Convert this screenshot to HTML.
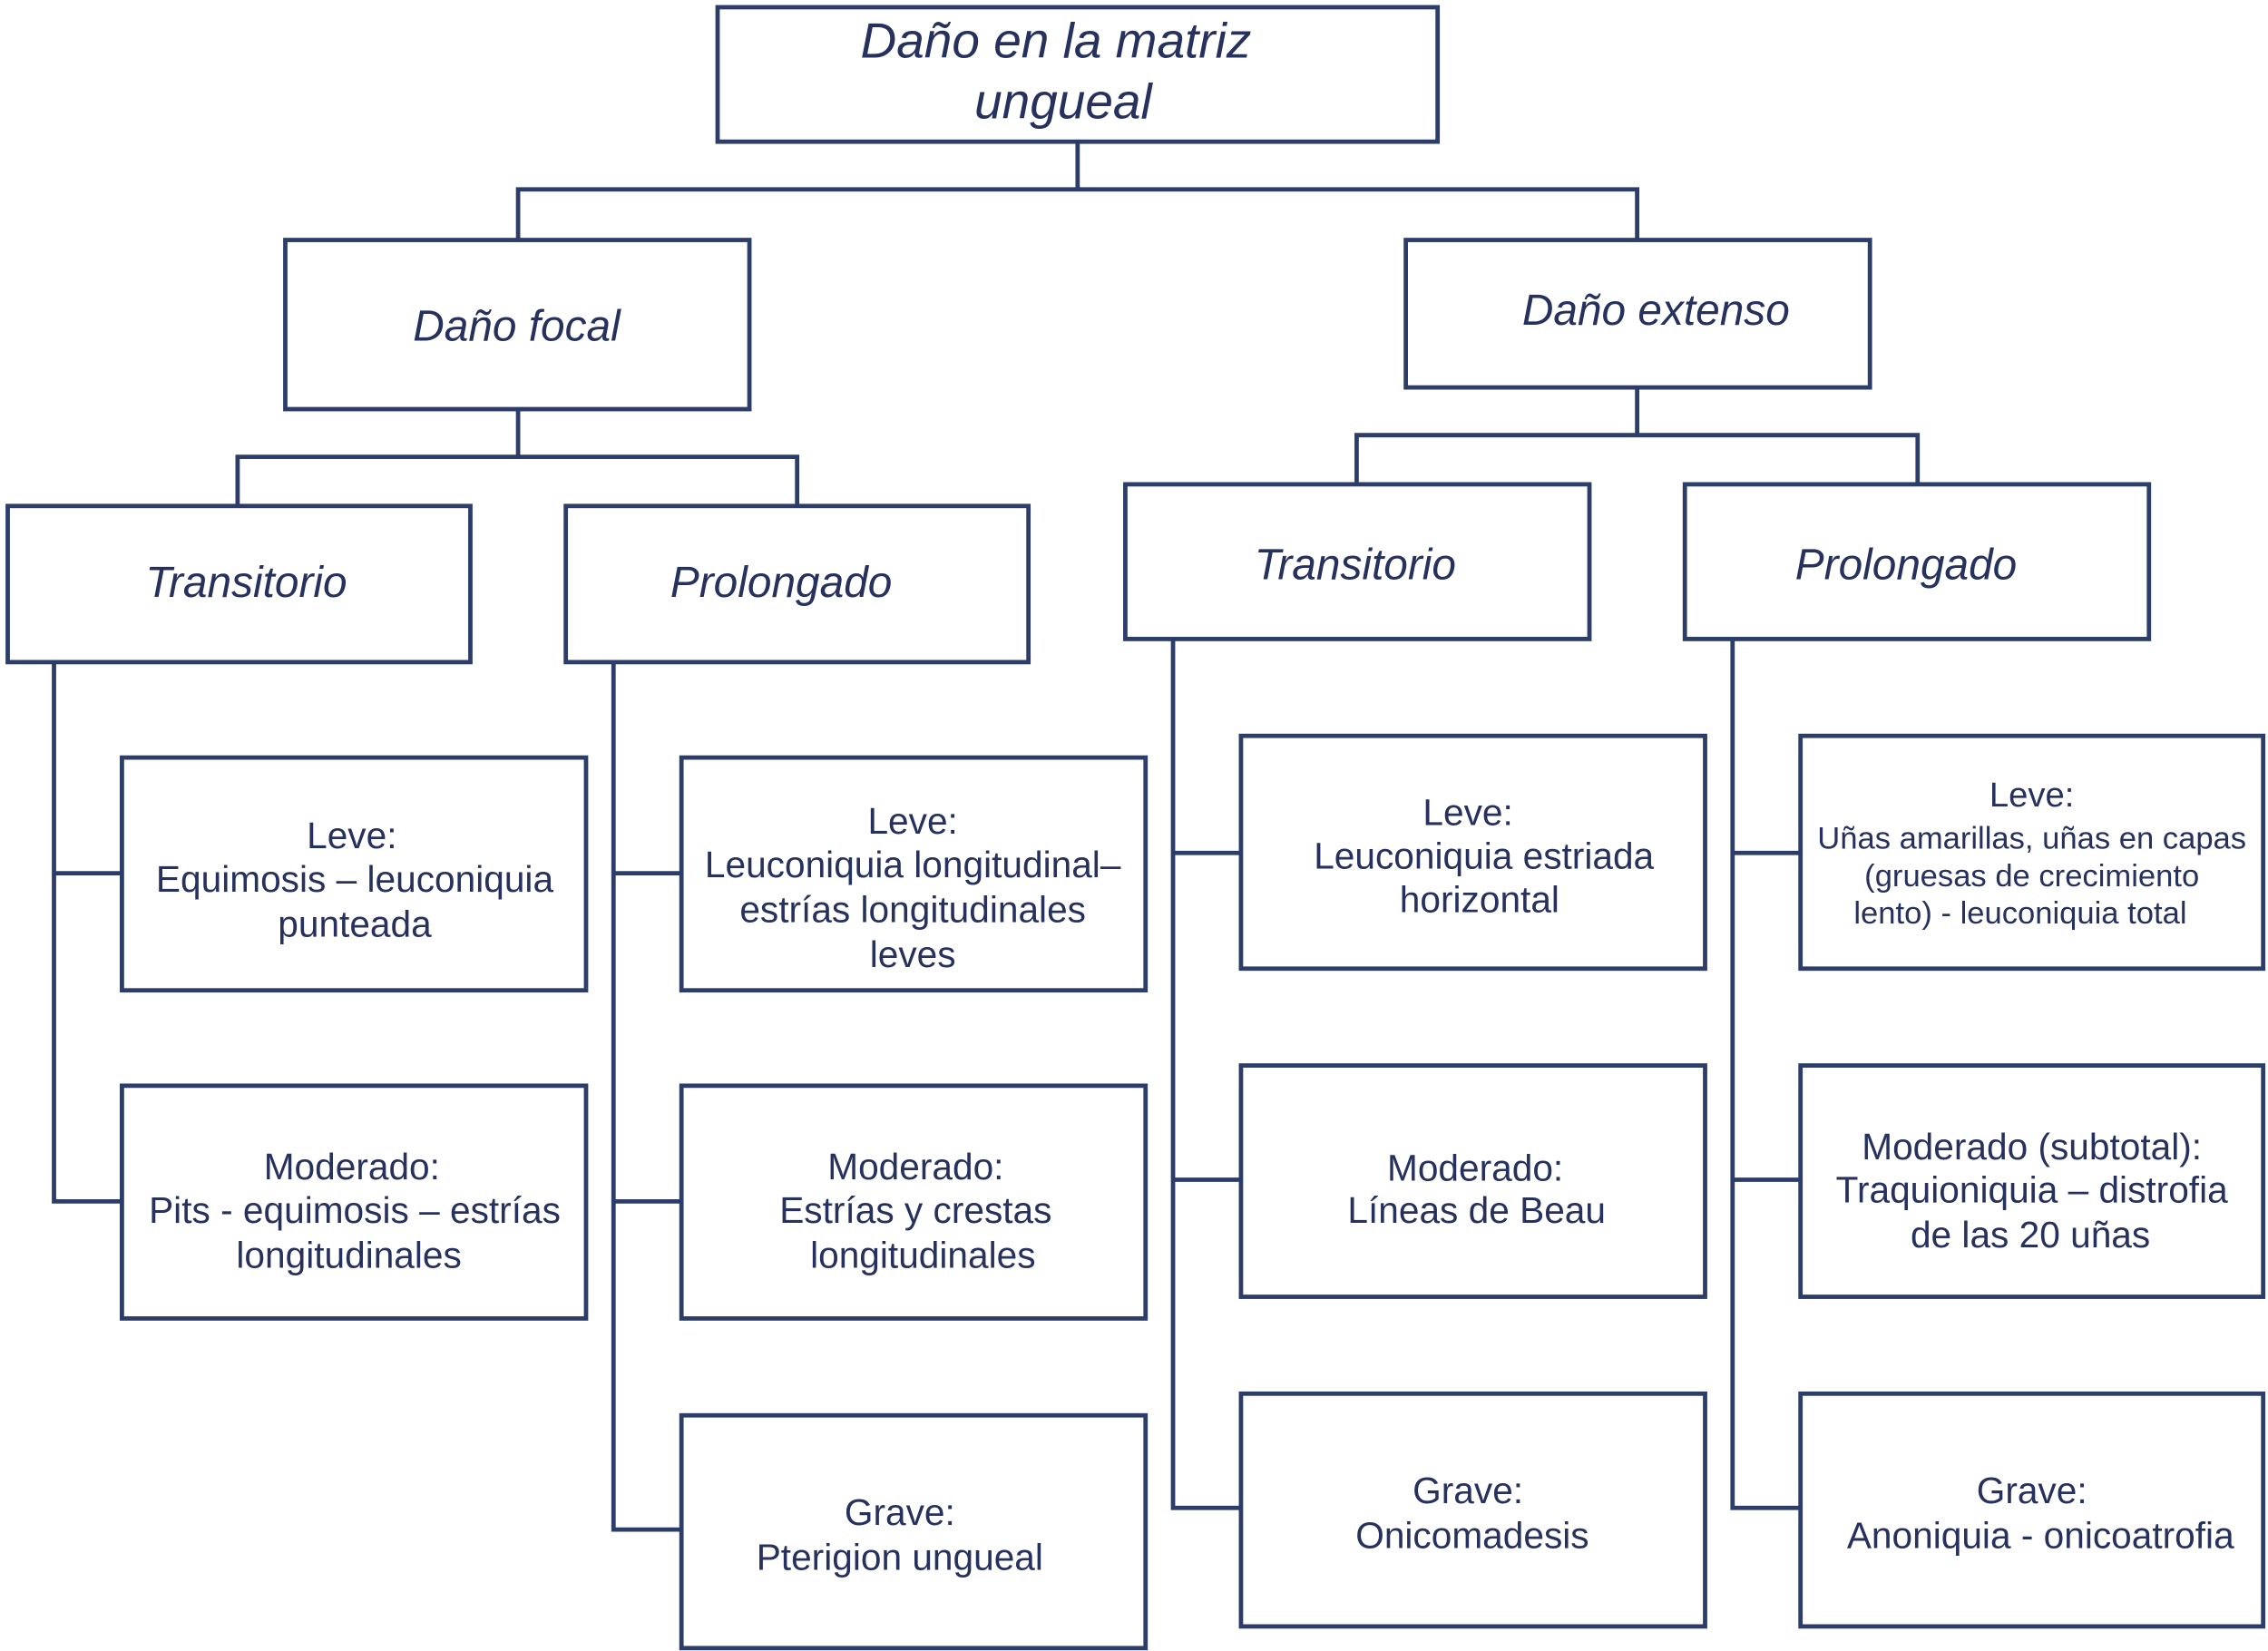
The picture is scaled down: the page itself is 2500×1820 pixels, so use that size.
<!DOCTYPE html>
<html><head><meta charset="utf-8"><style>
html,body{margin:0;padding:0;background:#fff;}
svg{display:block;}
text{font-family:"Liberation Sans",sans-serif;fill:#27315e;text-anchor:middle;dominant-baseline:central;}
.i{font-style:italic;}
</style></head><body>
<svg width="2500" height="1820" viewBox="0 0 1568 1142" xmlns="http://www.w3.org/2000/svg">
<g fill="none" stroke="#2c3d6a" stroke-width="3">
<rect x="496" y="5" width="498" height="93"/>
<rect x="197" y="166" width="321" height="117"/>
<rect x="972" y="166" width="321" height="102"/>
<rect x="5" y="350" width="320" height="108"/>
<rect x="391" y="350" width="320" height="108"/>
<rect x="778" y="335" width="321" height="107"/>
<rect x="1165" y="335" width="321" height="107"/>
<rect x="84" y="524" width="321" height="161"/>
<rect x="84" y="751" width="321" height="161"/>
<rect x="471" y="524" width="321" height="161"/>
<rect x="471" y="751" width="321" height="161"/>
<rect x="471" y="979" width="321" height="161"/>
<rect x="858" y="509" width="321" height="161"/>
<rect x="858" y="737" width="321" height="160"/>
<rect x="858" y="964" width="321" height="161"/>
<rect x="1245" y="509" width="320" height="161"/>
<rect x="1245" y="737" width="320" height="160"/>
<rect x="1245" y="964" width="320" height="161"/>
<path d="M745 98V131M358 166V131H1132V166"/>
<path d="M358 283V316M164 350V316H551V350"/>
<path d="M1132 268V301M938 335V301H1326V335"/>
<path d="M37 458V831H84M37 604H84"/>
<path d="M424 458V1058H471M424 604H471M424 831H471"/>
<path d="M811 442V1043H858M811 590H858M811 816H858"/>
<path d="M1198 442V1043H1245M1198 590H1245M1198 816H1245"/>
</g>
<g font-size="34.5">
<text class="i" x="730" y="28">Daño en la matriz</text>
<text class="i" x="735" y="70">ungueal</text>
</g>
<g font-size="30">
<text class="i" x="357" y="226">Daño focal</text>
<text class="i" x="1145" y="215">Daño extenso</text>
<text class="i" x="170" y="403">Transitorio</text>
<text class="i" x="540" y="403">Prolongado</text>
<text class="i" x="937" y="391">Transitorio</text>
<text class="i" x="1318" y="391">Prolongado</text>
</g>
<g font-size="25.5">
<text x="243" y="578">Leve:</text>
<text x="245" y="608">Equimosis – leuconiquia</text>
<text x="245" y="639">punteada</text>
<text x="243" y="807">Moderado:</text>
<text x="245" y="837">Pits - equimosis – estrías</text>
<text x="241" y="868">longitudinales</text>
<text x="631" y="568">Leve:</text>
<text x="631" y="598">Leuconiquia longitudinal–</text>
<text x="631" y="629">estrías longitudinales</text>
<text x="631" y="660">leves</text>
<text x="633" y="807">Moderado:</text>
<text x="633" y="837">Estrías y crestas</text>
<text x="638" y="868">longitudinales</text>
<text x="622" y="1046">Grave:</text>
<text x="622" y="1077">Pterigion ungueal</text>
<text x="1015" y="562">Leve:</text>
<text x="1026" y="592">Leuconiquia estriada</text>
<text x="1023" y="622">horizontal</text>
<text x="1020" y="808">Moderado:</text>
<text x="1021" y="837">Líneas de Beau</text>
<text x="1015" y="1031">Grave:</text>
<text x="1018" y="1062">Onicomadesis</text>
<text x="1405" y="550" font-size="24">Leve:</text>
<text x="1405" y="580" font-size="21.7">Uñas amarillas, uñas en capas</text>
<text x="1405" y="606" font-size="21.7">(gruesas de crecimiento</text>
<text x="1397" y="632" font-size="21.7">lento) - leuconiquia total</text>
<text x="1405" y="793">Moderado (subtotal):</text>
<text x="1405" y="823">Traquioniquia – distrofia</text>
<text x="1404" y="854">de las 20 uñas</text>
<text x="1405" y="1031">Grave:</text>
<text x="1411" y="1062">Anoniquia - onicoatrofia</text>
</g>
</svg>
</body></html>
